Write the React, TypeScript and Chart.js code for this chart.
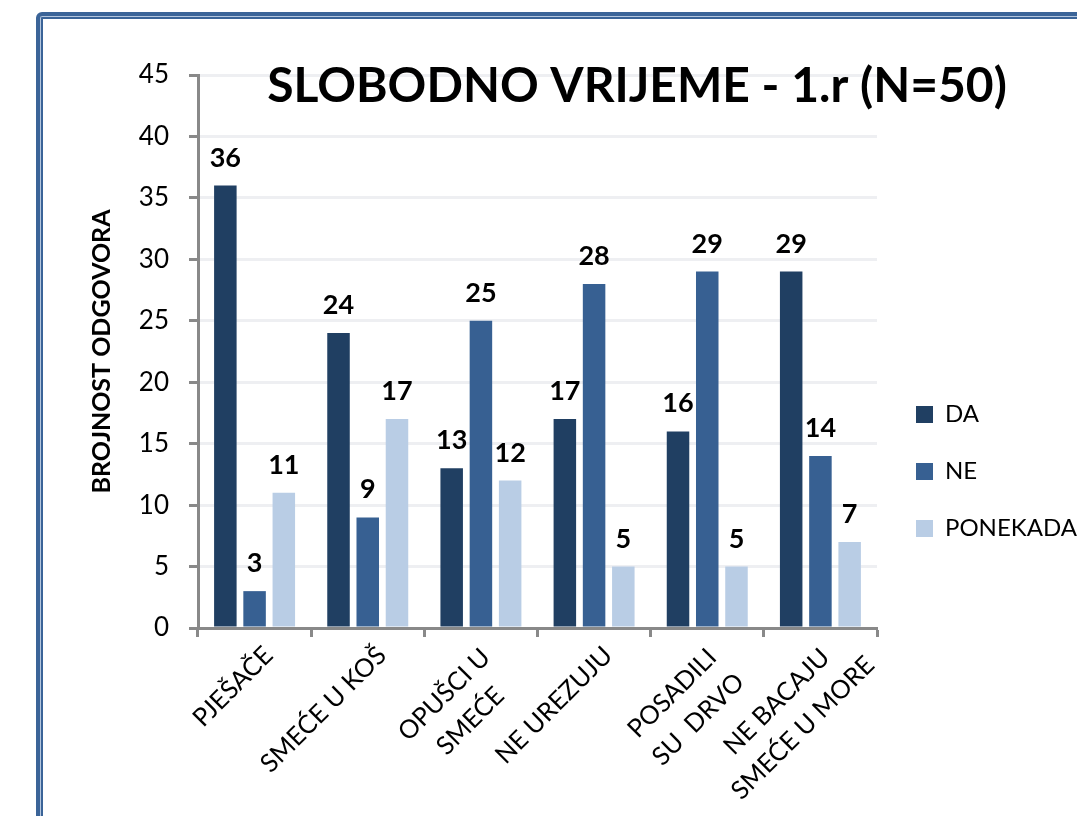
import React, { useEffect, useRef } from "react";
import { Chart, registerables } from "chart.js";

Chart.register(...registerables);

const categories: (string | string[])[] = [
  "PJEŠAČE",
  "SMEĆE U KOŠ",
  ["OPUŠCI U", "SMEĆE"],
  "NE UREZUJU",
  ["POSADILI", "SU  DRVO"],
  ["NE BACAJU", "SMEĆE U MORE"],
];
const daValues = [36, 24, 13, 17, 16, 29];
const neValues = [3, 9, 25, 28, 29, 14];
const ponekadaValues = [11, 17, 12, 5, 5, 7];
const seriesNames = ["DA", "NE", "PONEKADA"];
const seriesColors = ["#203f62", "#376092", "#b9cde5"];
const yTicks = { min: 0, max: 45, step: 5 };
const titleText = "SLOBODNO VRIJEME - 1.r (N=50)";
const yTitle = "BROJNOST ODGOVORA";

const FONT = "Lato, 'Open Sans', sans-serif";
const AXIS = "#898989";

export default function App() {
  const ref = useRef<HTMLCanvasElement | null>(null);

  useEffect(() => {
    if (!ref.current) return;
    const labelPlugin = {
      id: "valueLabels",
      afterDatasetsDraw(chart: any) {
        const ctx = chart.ctx;
        ctx.save();
        ctx.font = `bold 27px ${FONT}`;
        ctx.fillStyle = "#000";
        ctx.textAlign = "center";
        ctx.textBaseline = "alphabetic";
        chart.data.datasets.forEach((ds: any, i: number) => {
          const meta = chart.getDatasetMeta(i);
          meta.data.forEach((bar: any, j: number) => {
            ctx.fillText(String(ds.data[j]), bar.x, bar.y - 19);
          });
        });
        ctx.restore();
      },
    };
    const xLabelPlugin = {
      id: "xLabels",
      afterDraw(chart: any) {
        const ctx = chart.ctx;
        const xs = chart.scales.x;
        const labels = chart.data.labels as (string | string[])[];
        ctx.save();
        ctx.font = `25.5px ${FONT}`;
        ctx.fillStyle = "#000";
        ctx.textAlign = "center";
        ctx.textBaseline = "middle";
        const lineH = 37;
        labels.forEach((lab, i) => {
          const lines = Array.isArray(lab) ? lab : [lab];
          const cx = xs.getPixelForTick(i);
          const y0 = xs.top + 9;
          const w0 = ctx.measureText(lines[0]).width;
          const multi = lines.length > 1;
          const uc = -w0 / 2 - (multi ? 8 : 0);
          const v0 = multi ? 15 : 20;
          ctx.save();
          ctx.translate(cx, y0);
          ctx.rotate(-Math.PI / 4);
          lines.forEach((ln, k) => {
            ctx.fillText(ln, uc, v0 + k * lineH);
          });
          ctx.restore();
        });
        ctx.restore();
      },
    };
    const titlePlugin = {
      id: "bigTitle",
      afterDraw(chart: any) {
        const ctx = chart.ctx;
        ctx.save();
        ctx.font = `bold 48px ${FONT}`;
        ctx.fillStyle = "#000";
        ctx.textAlign = "center";
        ctx.textBaseline = "alphabetic";
        ctx.fillText(titleText, 637, 102);
        ctx.restore();
      },
    };
    const legendShift = {
      id: "legendShift",
      afterLayout(chart: any) {
        const lg = chart.legend;
        if (!lg) return;
        lg.left += 6;
        lg.right += 6;
        lg.top += 26;
        lg.bottom += 26;
      },
    };

    const chart = new Chart(ref.current, {
      type: "bar",
      data: {
        labels: categories,
        datasets: [
          { label: seriesNames[0], data: daValues, backgroundColor: seriesColors[0] },
          { label: seriesNames[1], data: neValues, backgroundColor: seriesColors[1] },
          { label: seriesNames[2], data: ponekadaValues, backgroundColor: seriesColors[2] },
        ],
      },
      options: {
        responsive: false,
        animation: false,
        layout: { padding: { left: 0, top: 75, right: 0, bottom: 0 } },
        datasets: { bar: { categoryPercentage: 0.775, barPercentage: 0.77 } },
        plugins: {
          tooltip: { enabled: false },
          title: { display: false },
          legend: {
            position: "right",
            maxWidth: 200,
            labels: {
              boxWidth: 17,
              boxHeight: 17,
              padding: 33,
              color: "#000",
              font: { family: FONT, size: 24 },
            },
          },
        },
        scales: {
          x: {
            afterFit: (s: any) => {
              s.height = 188;
            },
            grid: {
              display: true,
              drawOnChartArea: false,
              drawTicks: true,
              tickLength: 9,
              tickColor: AXIS,
              tickWidth: 3,
              offset: true,
            },
            border: { color: AXIS, width: 3 },
            ticks: {
              display: false,
              autoSkip: false,
            },
          },
          y: {
            min: yTicks.min,
            max: yTicks.max,
            afterFit: (s: any) => {
              s.width = 198;
            },
            grid: {
              color: "#eeeff2",
              lineWidth: 3,
              drawTicks: true,
              tickLength: 9,
              tickColor: AXIS,
              tickWidth: 3,
            },
            border: { color: AXIS, width: 3 },
            ticks: {
              stepSize: yTicks.step,
              color: "#000",
              font: { family: FONT, size: 26 },
              padding: 20,
            },
            title: {
              display: true,
              text: yTitle,
              color: "#000",
              font: { family: FONT, size: 25, weight: "bold" },
              padding: { top: 87, bottom: 0 },
            },
          },
        },
      },
      plugins: [labelPlugin, xLabelPlugin, titlePlugin, legendShift],
    } as any);
    return () => chart.destroy();
  }, []);

  return (
    <div
      style={{
        position: "fixed",
        left: 0,
        top: 0,
        width: 1077,
        height: 816,
        overflow: "hidden",
        background: "#fff",
      }}
    >
      <div
        style={{
          position: "absolute",
          left: 36,
          top: 12,
          width: 1200,
          height: 1000,
          border: "4px solid #3b6498",
          borderRadius: 6,
          boxShadow: "inset 0 0 0 1px #b4c6de, inset 0 0 0 3px #3b6498",
          boxSizing: "border-box",
        }}
      />
      <canvas
        ref={ref}
        width={1077}
        height={816}
        style={{ position: "absolute", left: 0, top: 0, width: 1077, height: 816 }}
      />
    </div>
  );
}
